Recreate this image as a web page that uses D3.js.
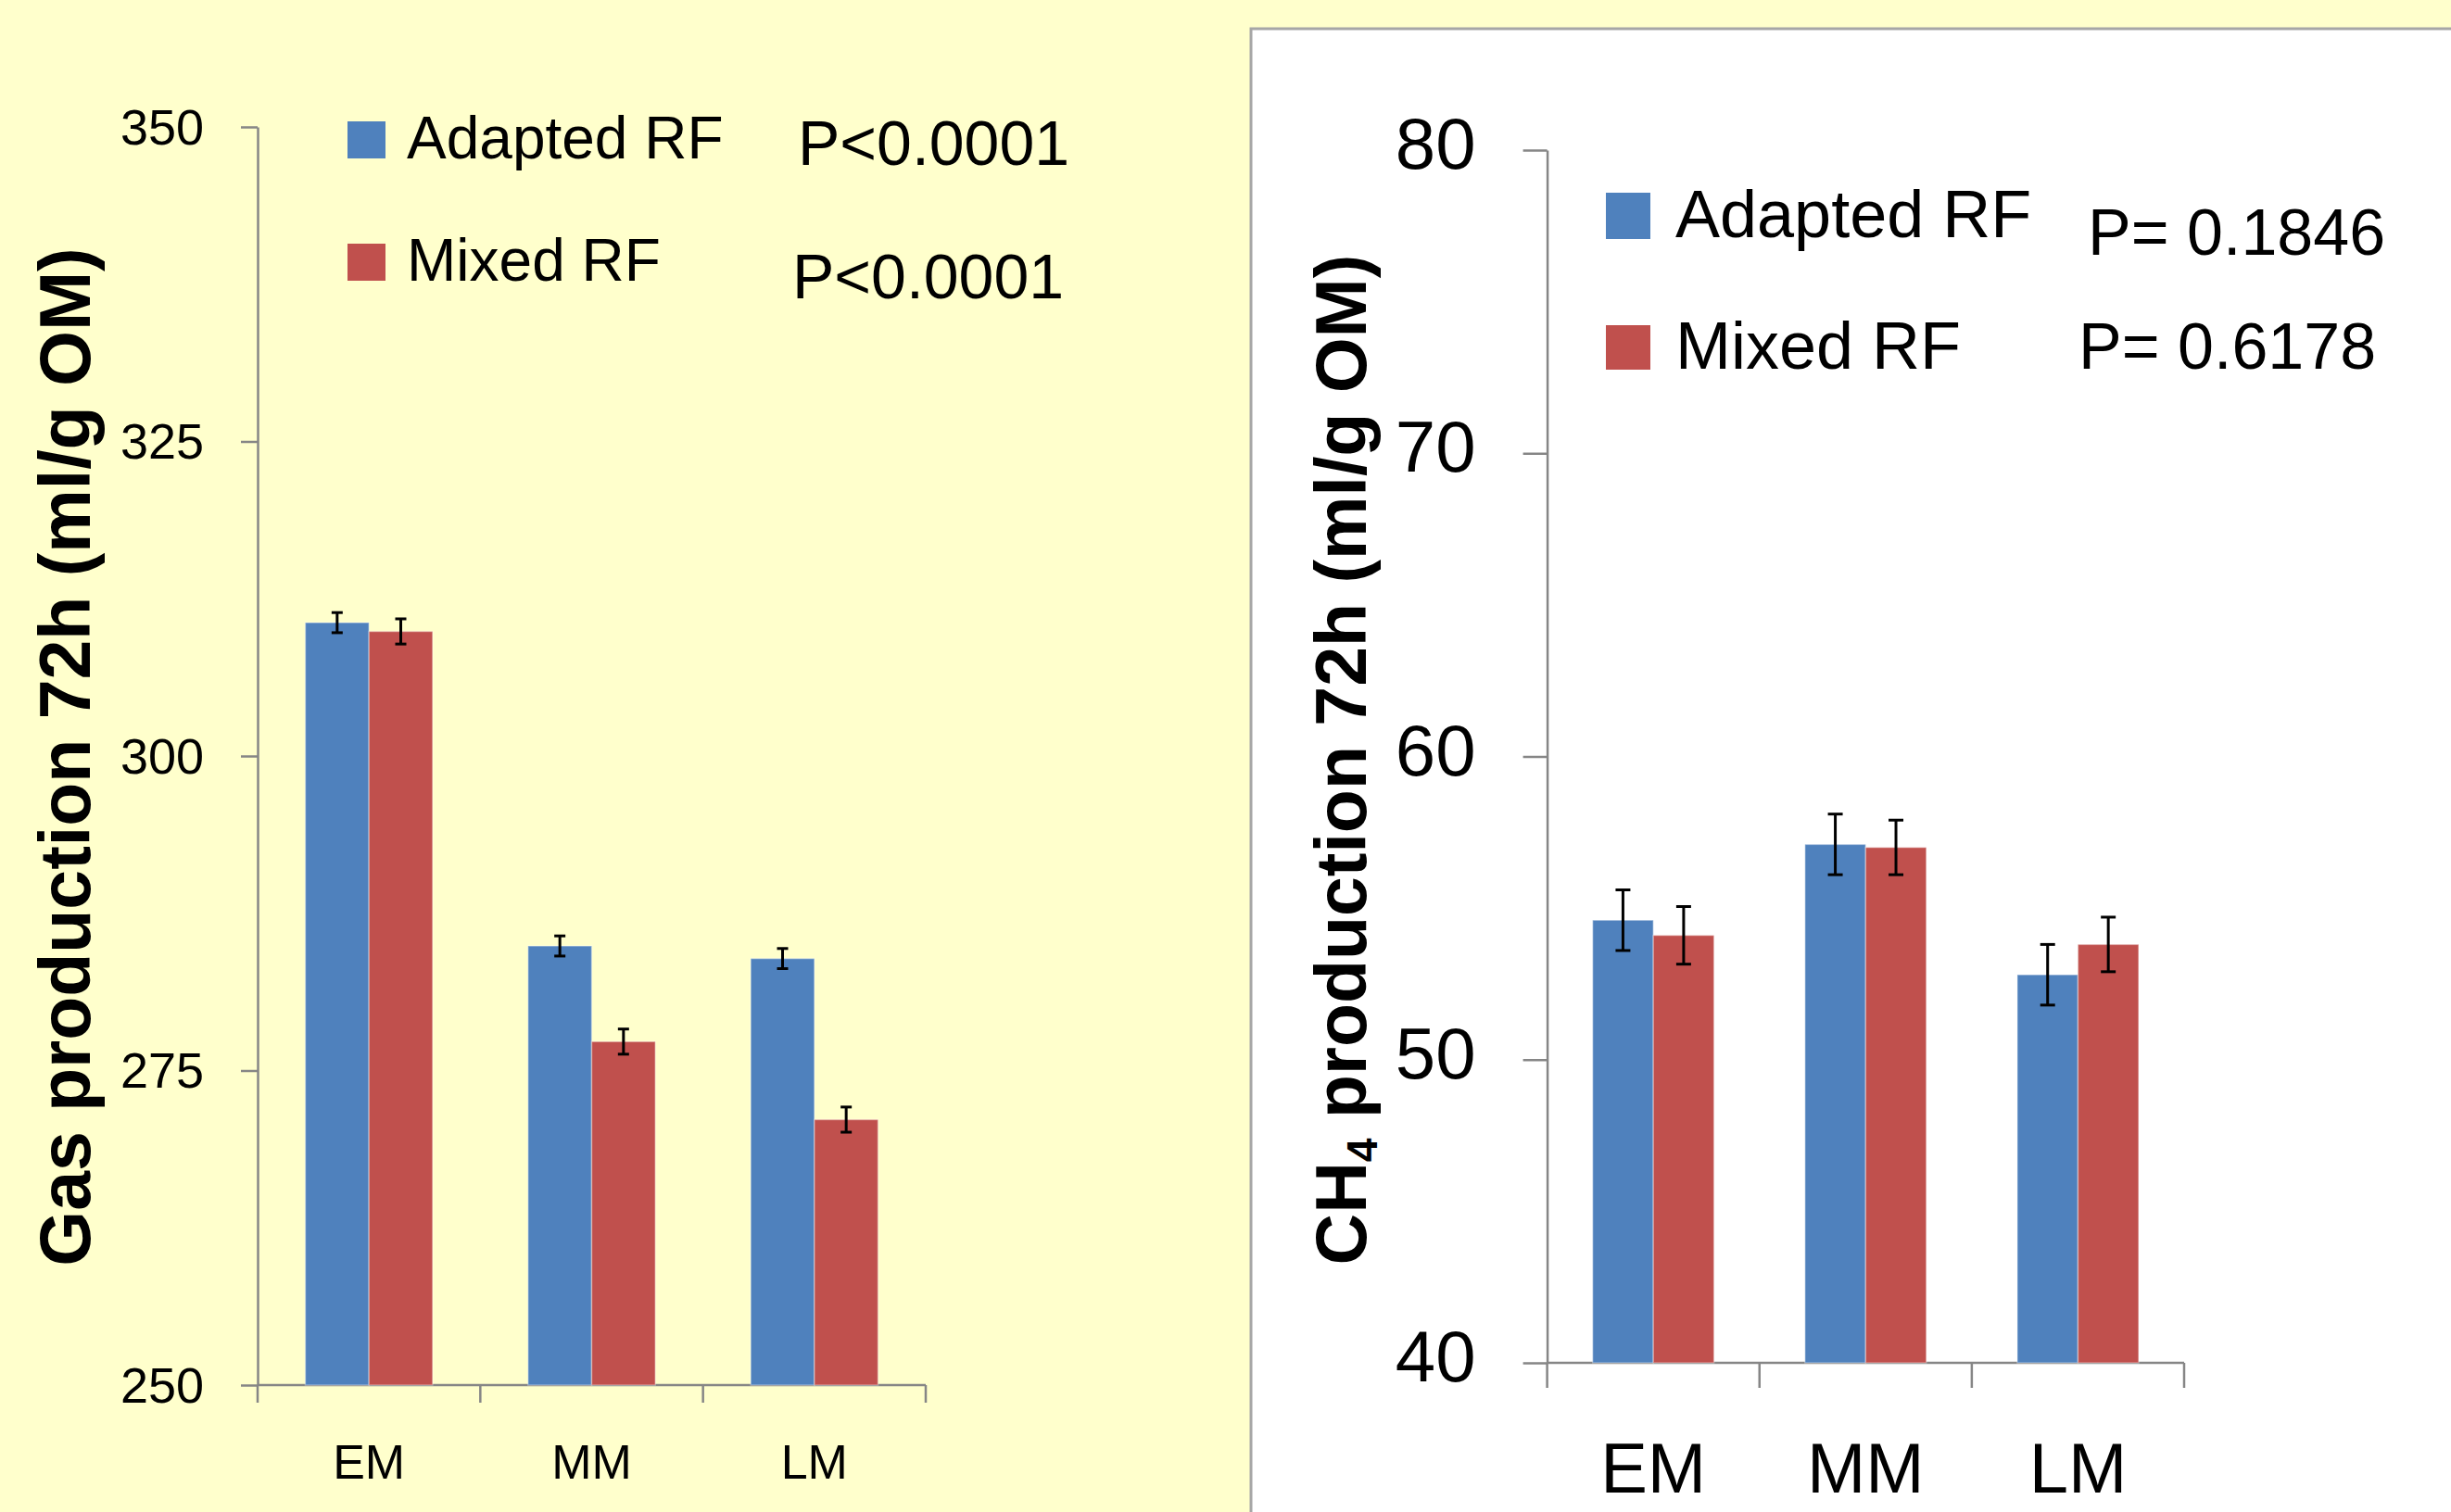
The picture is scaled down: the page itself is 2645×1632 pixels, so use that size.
<!DOCTYPE html>
<html>
<head>
<meta charset="utf-8">
<script src="https://cdn.jsdelivr.net/npm/d3@7"></script>
<style>
  html, body { margin: 0; padding: 0; background: #FFFFCC; }
  svg { display: block; }
  text { font-family: "Liberation Sans", Arial, sans-serif; fill: #000; }
</style>
</head>
<body>
<svg id="chart" width="2645" height="1632"></svg>
<script>
// ---------- DATA ----------
const categories = ["EM", "MM", "LM"];
const seriesNames = ["Adapted RF", "Mixed RF"];

const gasAdapted = [310.6, 284.9, 283.9];
const gasMixed = [309.9, 277.3, 271.1];
const gasAdaptedErr = [0.8, 0.8, 0.8];
const gasMixedErr = [1.0, 1.0, 1.0];
const gasTicks = [250, 275, 300, 325, 350];
const gasPValues = ["P<0.0001", "P<0.0001"];

const ch4Adapted = [54.6, 57.1, 52.8];
const ch4Mixed = [54.1, 57.0, 53.8];
const ch4AdaptedErr = [1.0, 1.0, 1.0];
const ch4MixedErr = [0.95, 0.9, 0.9];
const ch4Ticks = [40, 50, 60, 70, 80];
const ch4PValues = ["P= 0.1846", "P= 0.6178"];

const colors = ["#4F81BD", "#C0504D"];

// ---------- DRAW ----------
const svg = d3.select("#chart");

// right white panel
svg.append("rect")
  .attr("x", 1350).attr("y", 31)
  .attr("width", 1400).attr("height", 1700)
  .attr("fill", "#FFFFFF")
  .attr("stroke", "#A6A6A6").attr("stroke-width", 3);

function drawPanel(cfg) {
  const g = svg.append("g");
  const x = d3.scaleBand().domain(categories).range([cfg.x0, cfg.x1]).paddingInner(0).paddingOuter(0);
  const y = d3.scaleLinear().domain([cfg.ticks[0], cfg.ticks[cfg.ticks.length - 1]]).range([cfg.y0, cfg.y1]);
  const barW = x.bandwidth() / 3.5;
  const xs = d3.scaleBand().domain(seriesNames).range([0, 2 * barW]);
  const groupOffset = (x.bandwidth() - 2 * barW) / 2;

  // y axis
  const yAxis = d3.axisLeft(y).tickValues(cfg.ticks).tickSize(cfg.tickLen).tickPadding(cfg.tickPad).tickSizeOuter(0);
  const ya = g.append("g").attr("transform", `translate(${cfg.x0},0)`).call(yAxis);
  ya.select(".domain").attr("stroke", "#868686").attr("stroke-width", 2.5);
  ya.selectAll(".tick line").attr("stroke", "#868686").attr("stroke-width", 2.5);
  ya.selectAll(".tick text")
    .attr("font-family", "Liberation Sans, Arial, sans-serif")
    .attr("font-size", cfg.tickFont).attr("fill", "#000").attr("dy", cfg.tickDy);

  // x axis line + category separators
  g.append("line").attr("x1", cfg.x0).attr("x2", cfg.x1).attr("y1", cfg.y0).attr("y2", cfg.y0)
    .attr("stroke", "#868686").attr("stroke-width", 2.5);
  const seps = categories.map(c => x(c)).concat([x(categories[categories.length - 1]) + x.bandwidth()]);
  g.selectAll(".sep").data(seps).enter().append("line")
    .attr("x1", d => d).attr("x2", d => d)
    .attr("y1", cfg.y0).attr("y2", cfg.y0 + cfg.xTickLen)
    .attr("stroke", "#868686").attr("stroke-width", 2.5);

  // category labels
  g.selectAll(".cat").data(categories).enter().append("text")
    .attr("x", d => x(d) + x.bandwidth() / 2)
    .attr("y", cfg.y0 + cfg.catOffset)
    .attr("text-anchor", "middle")
    .attr("font-size", cfg.catFont)
    .text(d => d);

  // bars
  const rows = [];
  categories.forEach((c, i) => {
    seriesNames.forEach((s, j) => {
      rows.push({ c, s, j, v: cfg.values[j][i], e: cfg.errors[j][i] });
    });
  });
  g.selectAll(".bar").data(rows).enter().append("rect")
    .attr("x", d => x(d.c) + groupOffset + xs(d.s))
    .attr("width", xs.bandwidth())
    .attr("y", d => y(d.v))
    .attr("height", d => y(cfg.ticks[0]) - y(d.v))
    .attr("fill", d => colors[d.j])
    .attr("stroke", "rgba(255,255,255,0.35)").attr("stroke-width", 1.5);

  // error bars
  const eb = g.selectAll(".err").data(rows).enter().append("g")
    .attr("transform", d => `translate(${x(d.c) + groupOffset + xs(d.s) + xs.bandwidth() / 2},0)`);
  eb.append("line").attr("x1", 0).attr("x2", 0)
    .attr("y1", d => y(d.v + d.e)).attr("y2", d => y(d.v - d.e))
    .attr("stroke", "#000").attr("stroke-width", 3);
  eb.append("line").attr("x1", -cfg.cap).attr("x2", cfg.cap)
    .attr("y1", d => y(d.v + d.e)).attr("y2", d => y(d.v + d.e))
    .attr("stroke", "#000").attr("stroke-width", 3);
  eb.append("line").attr("x1", -cfg.cap).attr("x2", cfg.cap)
    .attr("y1", d => y(d.v - d.e)).attr("y2", d => y(d.v - d.e))
    .attr("stroke", "#000").attr("stroke-width", 3);

  // legend
  seriesNames.forEach((s, j) => {
    const L = cfg.legend[j];
    g.append("rect").attr("x", L.sx).attr("y", L.sy).attr("width", L.sw).attr("height", L.sh).attr("fill", colors[j]);
    g.append("text").attr("x", L.tx).attr("y", L.ty).attr("font-size", cfg.legFont).text(s);
    g.append("text").attr("x", L.px).attr("y", L.py).attr("font-size", cfg.pFont).text(cfg.pvals[j]);
  });

  // y title
  const t = g.append("text")
    .attr("transform", `translate(${cfg.titleX},${cfg.titleY}) rotate(-90)`)
    .attr("text-anchor", "middle")
    .attr("font-weight", "bold")
    .attr("font-size", cfg.titleFont);
  cfg.title.forEach(part => {
    const ts = t.append("tspan").text(part.t);
    if (part.sub) ts.attr("font-size", cfg.titleFont * 0.6).attr("dy", "0.25em");
    if (part.after) ts.attr("dy", "-0.15em");
  });
}

drawPanel({
  x0: 278, x1: 999, y0: 1495, y1: 137,
  ticks: gasTicks, tickLen: 18, tickPad: 40, tickFont: 54, tickDy: "0.34em",
  xTickLen: 19, catOffset: 101, catFont: 52,
  values: [gasAdapted, gasMixed], errors: [gasAdaptedErr, gasMixedErr], cap: 6,
  legFont: 64, pFont: 68, pvals: gasPValues,
  legend: [
    { sx: 375, sy: 131, sw: 41, sh: 40, tx: 439, ty: 171, px: 861, py: 178 },
    { sx: 375, sy: 263, sw: 41, sh: 40, tx: 439, ty: 303, px: 855, py: 322 }
  ],
  titleX: 97, titleY: 817, titleFont: 77,
  title: [{ t: "Gas production 72h (ml/g OM)" }]
});

drawPanel({
  x0: 1669.6, x1: 2357, y0: 1471, y1: 162,
  ticks: ch4Ticks, tickLen: 26, tickPad: 51, tickFont: 78, tickDy: "0.25em",
  xTickLen: 27, catOffset: 140, catFont: 76,
  values: [ch4Adapted, ch4Mixed], errors: [ch4AdaptedErr, ch4MixedErr], cap: 8,
  legFont: 72, pFont: 70, pvals: ch4PValues,
  legend: [
    { sx: 1733, sy: 208, sw: 48, sh: 50, tx: 1808, ty: 256, px: 2253, py: 275 },
    { sx: 1733, sy: 351, sw: 48, sh: 48, tx: 1808, ty: 398, px: 2243, py: 398 }
  ],
  titleX: 1474, titleY: 820, titleFont: 77,
  title: [{ t: "CH" }, { t: "4", sub: true }, { t: " production 72h (ml/g OM)", after: true }]
});
</script>
</body>
</html>
